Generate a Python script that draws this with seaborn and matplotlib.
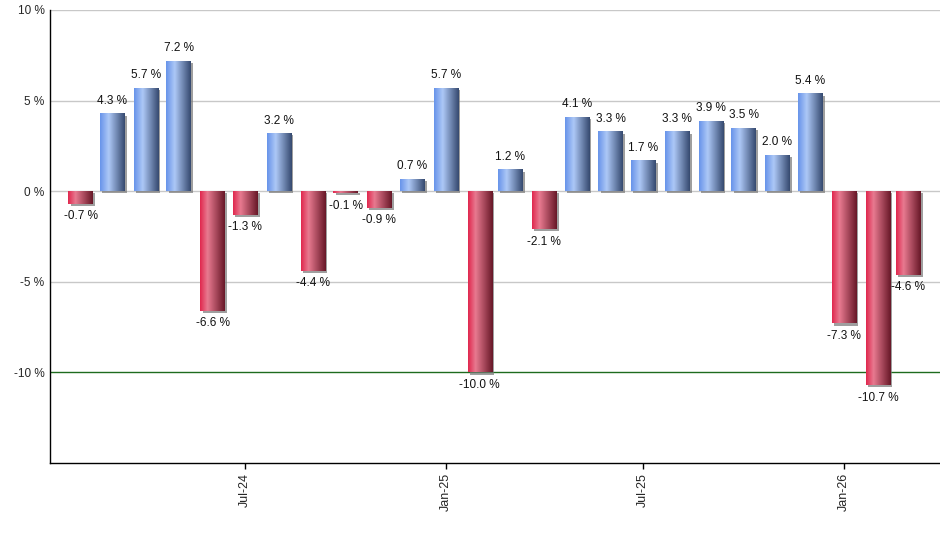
import numpy as np
import pandas as pd
import matplotlib
matplotlib.use('Agg')
import matplotlib.pyplot as plt
import matplotlib.dates as mdates
import matplotlib.patheffects as pe
from matplotlib.colors import LinearSegmentedColormap
import seaborn as sns

# monthly returns, Feb-24 .. Mar-26
months = pd.date_range('2024-02-01', '2026-03-01', freq='MS')
returns = [-0.7, 4.3, 5.7, 7.2, -6.6, -1.3, 3.2, -4.4, -0.1, -0.9, 0.7, 5.7, -10.0,
           1.2, -2.1, 4.1, 3.3, 1.7, 3.3, 3.9, 3.5, 2.0, 5.4, -7.3, -10.7, -4.6]
y_ticks = [10, 5, 0, -5, -10]

df = pd.DataFrame({'x': mdates.date2num(months), 'ret': returns})

sns.set_style('white')
plt.rcParams['font.family'] = ['Liberation Sans', 'DejaVu Sans']

fig = plt.figure(figsize=(9.4, 5.5), dpi=100)
ax = fig.add_axes([50 / 940, 87 / 550, 890 / 940, 453 / 550])

sns.barplot(data=df, x='x', y='ret', native_scale=True, width=0.8,
            color='#7fa4e0', linewidth=0, edgecolor='none', ax=ax, zorder=3)

blue_cm = LinearSegmentedColormap.from_list(
    'blue', [(0, '#6894ea'), (0.35, '#adc8f6'), (1, '#364a70')])
red_cm = LinearSegmentedColormap.from_list(
    'red', [(0, '#e0284e'), (0.3, '#e87a90'), (1, '#681828')])
grad = np.linspace(0, 1, 64).reshape(1, -1)

for patch, val in zip(ax.patches, returns):
    patch.set_path_effects([pe.SimplePatchShadow(offset=(1.6, -1.6),
                                                 shadow_rgbFace='#777777', alpha=0.7),
                            pe.Normal()])
    x0, y0 = patch.get_x(), patch.get_y()
    w, h = patch.get_width(), patch.get_height()
    cm = blue_cm if val >= 0 else red_cm
    im = ax.imshow(grad, cmap=cm, aspect='auto', interpolation='bilinear',
                   extent=[x0, x0 + w, y0, y0 + h], zorder=4)
    im.set_clip_path(patch)
    # value label
    off = 9 if val >= 0 else -9
    ax.annotate(f'{val:.1f} %', (x0 + w / 2, val), xytext=(0, off),
                textcoords='offset points', ha='center', va='center',
                fontsize=8.5, color='#111111', zorder=5)

ax.set_ylim(-15, 10)
ax.set_xlim(mdates.date2num(pd.Timestamp('2024-01-04')),
            mdates.date2num(pd.Timestamp('2026-03-30')))

for yv in y_ticks:
    col = '#1e6b1e' if yv == -10 else '#c8c8c8'
    ax.axhline(yv, color=col, lw=1.0, zorder=1)

ax.set_yticks(y_ticks)
ax.set_yticklabels([f'{v} %' for v in y_ticks])
ax.xaxis.set_major_locator(mdates.MonthLocator(bymonth=[1, 7]))
ax.xaxis.set_major_formatter(mdates.DateFormatter('%b-%y'))
ax.tick_params(axis='x', rotation=90, length=4, width=1, color='black',
               labelsize=9, pad=3, direction='out', bottom=True)
ax.tick_params(axis='y', length=0, labelsize=8.5, pad=4)
ax.set_xlabel('')
ax.set_ylabel('')

sns.despine(ax=ax, top=True, right=True)
ax.spines['left'].set_color('black')
ax.spines['bottom'].set_color('black')
ax.spines['left'].set_linewidth(1)
ax.spines['bottom'].set_linewidth(1)

fig.savefig('out.png', dpi=100)
